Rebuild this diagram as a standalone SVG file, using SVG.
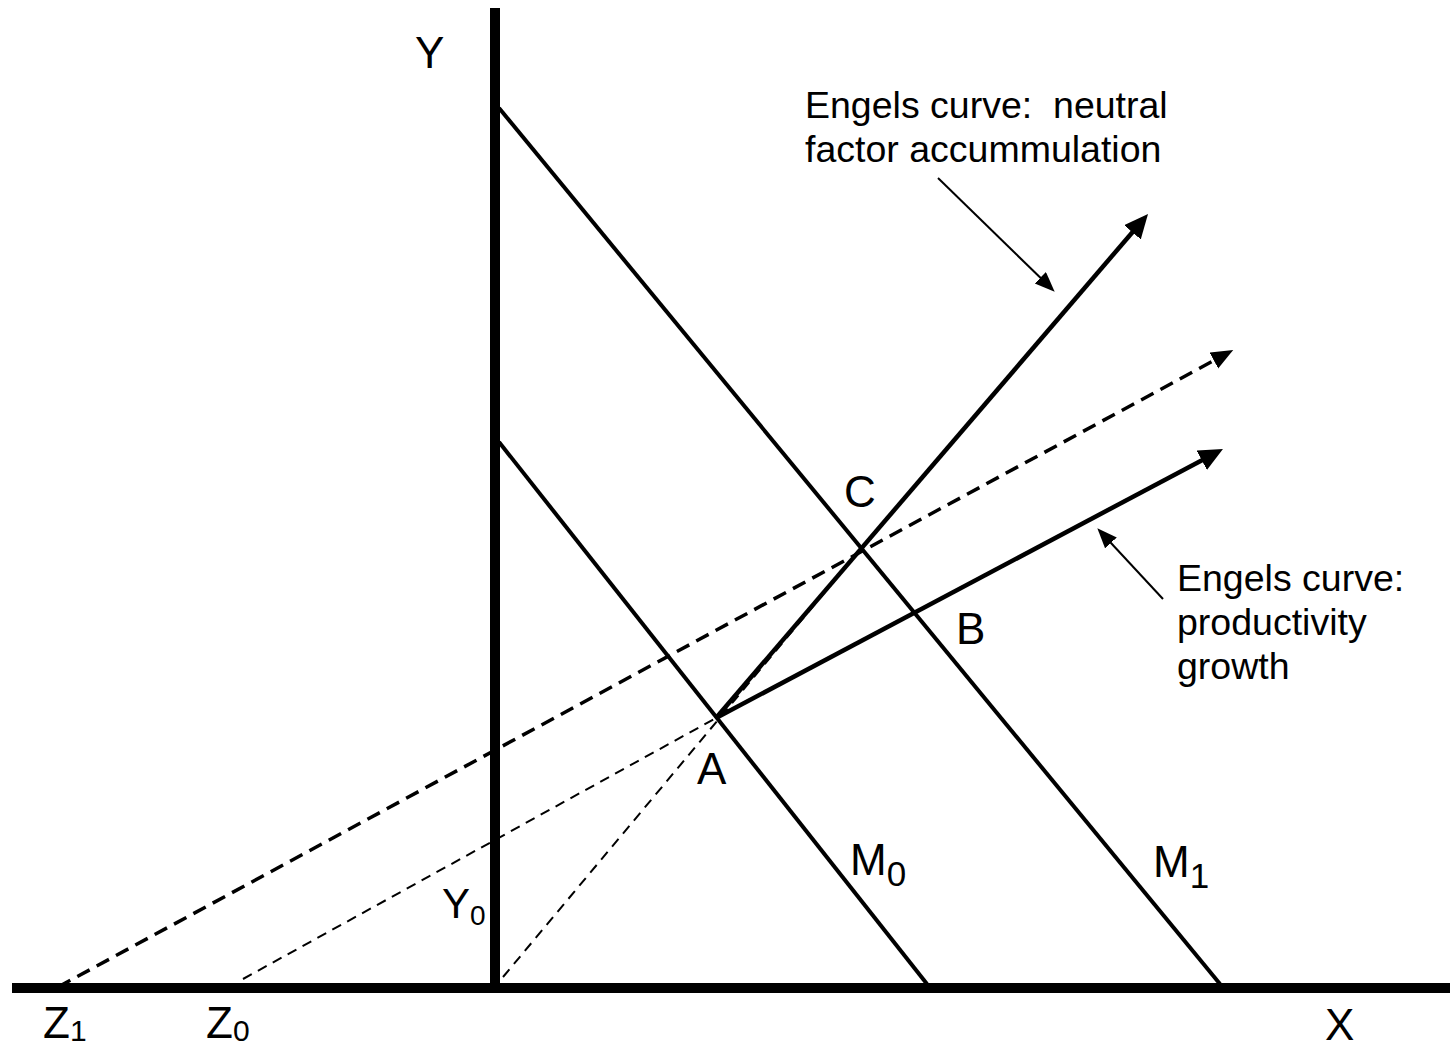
<svg xmlns="http://www.w3.org/2000/svg" width="1450" height="1049" viewBox="0 0 1450 1049">
<style>
  text { font-family: "Liberation Sans", Arial, sans-serif; fill: #000; }
  .lbl { font-size: 44px; }
  .sub { font-size: 35px; }
  .subs { font-size: 30px; }
  .note { font-size: 37.5px; }
  .axis { stroke: #000; stroke-width: 10; fill: none; }
  .budget { stroke: #000; stroke-width: 4; fill: none; }
  .engel { stroke: #000; stroke-width: 4.5; fill: none; }
  .dashThick { stroke: #000; stroke-width: 3.5; stroke-dasharray: 14 8; fill: none; }
  .dashThin { stroke: #000; stroke-width: 2; stroke-dasharray: 10 7; fill: none; }
  .thin { stroke: #000; stroke-width: 2; fill: none; }
</style>
<defs>
  <marker id="headBig" markerUnits="userSpaceOnUse" markerWidth="26" markerHeight="24" refX="4" refY="11" orient="auto">
    <path d="M0,0 L24,11 L0,22 z" fill="#000"/>
  </marker>
  <marker id="headMid" markerUnits="userSpaceOnUse" markerWidth="24" markerHeight="20" refX="4" refY="9" orient="auto">
    <path d="M0,0 L22,9 L0,18 z" fill="#000"/>
  </marker>
  <marker id="headSmall" markerUnits="userSpaceOnUse" markerWidth="22" markerHeight="18" refX="3" refY="8" orient="auto">
    <path d="M0,0 L20,8 L0,16 z" fill="#000"/>
  </marker>
</defs>
<rect x="0" y="0" width="1450" height="1049" fill="#fff"/>

<g id="connectors">
  <line id="x-axis" class="axis" x1="12" y1="988" x2="1450" y2="988"/>
  <line id="y-axis" class="axis" x1="495" y1="8" x2="495" y2="988"/>
  <line id="M0-line" class="budget" x1="499" y1="442" x2="927" y2="984"/>
  <line id="M1-line" class="budget" x1="499" y1="108" x2="1220" y2="984"/>
  <line id="Z1-dash" class="dashThick" x1="58" y1="987" x2="1217.4" y2="358.6" marker-end="url(#headMid)"/>
  <line id="Z0-dash" class="dashThin" x1="243" y1="979" x2="716" y2="718"/>
  <line id="origin-dash" class="dashThin" x1="503" y1="977" x2="861" y2="549"/>
  <line id="engel-neutral" class="engel" x1="716" y1="718" x2="1135" y2="229.2" marker-end="url(#headBig)"/>
  <line id="engel-productivity" class="engel" x1="716" y1="718" x2="1205.3" y2="458.4" marker-end="url(#headBig)"/>
  <line id="note1-pointer" class="thin" x1="938" y1="178" x2="1042.5" y2="279.8" marker-end="url(#headSmall)"/>
  <line id="note2-pointer" class="thin" x1="1163" y1="599" x2="1108.9" y2="540.7" marker-end="url(#headSmall)"/>
</g>

<g id="label-Y"><text class="lbl" x="415" y="68">Y</text></g>
<g id="label-X"><text class="lbl" x="1325" y="1040">X</text></g>
<g id="label-A"><text class="lbl" x="697" y="784">A</text></g>
<g id="label-B"><text class="lbl" x="956" y="644">B</text></g>
<g id="label-C"><text class="lbl" x="844" y="507">C</text></g>
<g id="label-M0"><text class="lbl" x="850" y="875">M<tspan class="sub" y="886">0</tspan></text></g>
<g id="label-M1"><text class="lbl" x="1153" y="877">M<tspan class="sub" y="888">1</tspan></text></g>
<g id="label-Y0"><text class="lbl" x="442" y="918" style="font-size:42px">Y<tspan style="font-size:28px" y="925">0</tspan></text></g>
<g id="label-Z1"><text class="lbl" x="43" y="1038">Z<tspan class="subs" y="1041">1</tspan></text></g>
<g id="label-Z0"><text class="lbl" x="206" y="1038">Z<tspan class="subs" y="1041">0</tspan></text></g>

<g id="note-neutral">
  <text class="note" x="805" y="118">Engels curve:&#160; neutral</text>
  <text class="note" x="805" y="162">factor accummulation</text>
</g>
<g id="note-productivity">
  <text class="note" x="1177" y="591">Engels curve:</text>
  <text class="note" x="1177" y="635">productivity</text>
  <text class="note" x="1177" y="679">growth</text>
</g>
</svg>
